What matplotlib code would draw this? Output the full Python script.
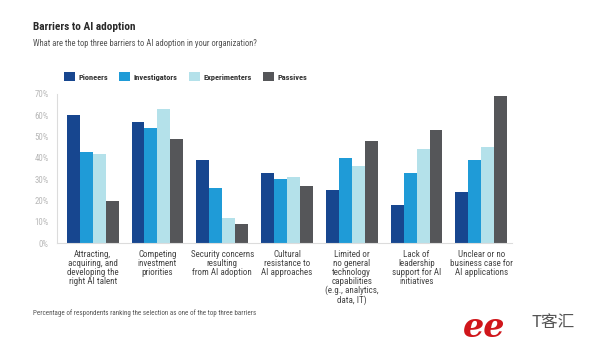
import matplotlib
matplotlib.use("Agg")
import matplotlib.pyplot as plt
import numpy as np
from matplotlib.patches import Patch

plt.rcParams['font.family'] = ['Roboto Condensed', 'DejaVu Sans']

categories = [
    "Attracting,\nacquiring, and\ndeveloping the\nright AI talent",
    "Competing\ninvestment\npriorities",
    "Security concerns\nresulting\nfrom AI adoption",
    "Cultural\nresistance to\nAI approaches",
    "Limited or\nno general\ntechnology\ncapabilities\n(e.g., analytics,\ndata, IT)",
    "Lack of\nleadership\nsupport for AI\ninitiatives",
    "Unclear or no\nbusiness case for\nAI applications",
]
series_names = ["Pioneers", "Investigators", "Experimenters", "Passives"]
pioneers = [60, 57, 39, 33, 25, 18, 24]
investigators = [43, 54, 26, 30, 40, 33, 39]
experimenters = [42, 63, 12, 31, 36, 44, 45]
passives = [20, 49, 9, 27, 48, 53, 69]
yticks = [0, 10, 20, 30, 40, 50, 60, 70]
ytick_labels = ["0%", "10%", "20%", "30%", "40%", "50%", "60%", "70%"]

colors = ["#17468f", "#1f9bd7", "#b4e1ea", "#555659"]
values = [pioneers, investigators, experimenters, passives]

fig = plt.figure(figsize=(6.0, 3.52), dpi=100)
ax = fig.add_axes([0.095, 0.309, 0.758, 0.424])

x = np.arange(len(categories))
w = 0.2
for i, (vals, c) in enumerate(zip(values, colors)):
    ax.bar(x + (i - 1.5) * w, vals, width=w, color=c, linewidth=0)

ax.set_xlim(-0.55, 6.47)
ax.set_ylim(0, 70)
ax.set_yticks(yticks)
ax.set_yticklabels(ytick_labels, color="#b8b8b8", fontsize=6.3)
ax.set_xticks(x)
ax.set_xticklabels(categories, fontsize=6.5, color="#444444", linespacing=0.98, va="top")
ax.tick_params(axis="both", length=0)
ax.tick_params(axis="y", pad=6)
ax.tick_params(axis="x", pad=5)
for s in ["top", "right"]:
    ax.spines[s].set_visible(False)
for s in ["left", "bottom"]:
    ax.spines[s].set_color("#dcdcdc")
    ax.spines[s].set_linewidth(0.8)

fig.text(0.055, 0.923, "Barriers to AI adoption", fontsize=8.1, fontweight="bold",
         color="#2a2a2a", va="center")
fig.text(0.055, 0.876, "What are the top three barriers to AI adoption in your organization?",
         fontsize=6.2, color="#555555", va="center")

handles = [Patch(facecolor=c, edgecolor="none", label=n) for c, n in zip(colors, series_names)]
leg = fig.legend(handles=handles, loc="center left", bbox_to_anchor=(0.106, 0.782), ncol=4,
                 frameon=False, handlelength=1.35, handleheight=1.35, handletextpad=0.4,
                 columnspacing=1.35, borderaxespad=0, borderpad=0,
                 prop={"size": 6.0, "weight": "bold"})
for t in leg.get_texts():
    t.set_color("#333333")

fig.text(0.055, 0.11, "Percentage of respondents ranking the selection as one of the top three barriers",
         fontsize=5.0, color="#555555", va="center")

# watermark
fig.text(0.772, 0.07, "ee", fontsize=24, fontstyle="italic", fontweight="bold",
         color="#d0161b", va="center", ha="left", family=["DejaVu Serif"])
fig.text(0.885, 0.085, "T客汇", fontsize=12, color="#555555", va="center", ha="left",
         family=["Noto Sans CJK SC", "DejaVu Sans"])

fig.savefig("out.png", dpi=100)
